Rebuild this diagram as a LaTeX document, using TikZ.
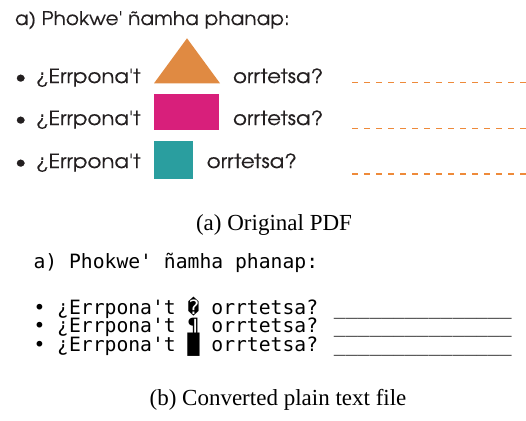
\documentclass[tikz,border=0pt]{standalone}
\usepackage{fontspec}
\newfontfamily\adv[FakeStretch=1.1,FakeBold=0.25]{texgyreadventor-regular.otf}
\newfontfamily\advtitle[FakeStretch=1.07,FakeBold=0.25]{texgyreadventor-regular.otf}
\newfontfamily\mono{DejaVu Sans Mono}
\newfontfamily\capfont{Liberation Serif}
\definecolor{triorange}{HTML}{E08A42}
\definecolor{rectmag}{HTML}{D81F7B}
\definecolor{sqteal}{HTML}{2A9E9F}
\definecolor{dashorange}{HTML}{EE8A3A}
\definecolor{inkgray}{HTML}{231F20}
\begin{document}
\begin{tikzpicture}[x=1pt,y=-1pt,
  every node/.style={inner sep=0pt,outer sep=0pt},
  orig/.style={font=\adv\fontsize{19.4}{22}\selectfont,anchor=base west,text=inkgray},
  origtitle/.style={font=\advtitle\fontsize{18.8}{21}\selectfont,anchor=base west,text=inkgray},
  bul/.style={font=\adv\fontsize{19.4}{22}\selectfont,anchor=base,text=inkgray},
  answer/.style={dashorange,line width=1.3pt,dash pattern=on 6pt off 6pt},
  plain/.style={font=\mono\fontsize{19.7}{23}\selectfont,anchor=base west},
  capt/.style={font=\capfont\fontsize{23}{27}\selectfont,anchor=base}]
\useasboundingbox (0,0) rectangle (526,420);
% (a) original
\node[origtitle] (t) at (15,25) {a) Phokwe' ñamha phanap:};
\node[bul] (b1) at (20.7,83) {•};
\node[bul] (b2) at (20.7,125) {•};
\node[bul] (b3) at (20.7,168) {•};
\node[orig] (q1) at (36,83) {¿Errpona't};
\node[orig] (q2) at (36,125) {¿Errpona't};
\node[orig] (q3) at (36,168) {¿Errpona't};
\fill[triorange] (154,83.3) -- (220,83.3) -- (187,38.3) -- cycle;
\fill[rectmag] (154,94) rectangle (219,130);
\fill[sqteal] (154,140.7) rectangle (192.5,178.7);
\node[orig] (o1) at (233,83) {orrtetsa?};
\node[orig] (o2) at (233,125) {orrtetsa?};
\node[orig] (o3) at (206.7,168) {orrtetsa?};
\coordinate (d1s) at (352,82.7); \coordinate (d1e) at (526,82.7);
\coordinate (d2s) at (352,128.3); \coordinate (d2e) at (526,128.3);
\coordinate (d3s) at (352,174); \coordinate (d3e) at (526,174);
\draw[answer] (d1s) -- (d1e);
\draw[answer] (d2s) -- (d2e);
\draw[answer] (d3s) -- (d3e);
\node[capt] (ca) at (274,230) {(a) Original PDF};
% (b) plain text
\node[plain] (p0) at (33.5,268) {a) Phokwe' ñamha phanap:};
\node[plain] (p1) at (33.5,314) {• ¿Errpona't � orrtetsa? \_\_\_\_\_\_\_\_\_\_\_\_\_\_\_};
\node[plain] (p2) at (33.5,332.5) {• ¿Errpona't ¶ orrtetsa? \_\_\_\_\_\_\_\_\_\_\_\_\_\_\_};
\node[plain] (p3) at (33.5,351) {• ¿Errpona't █ orrtetsa? \_\_\_\_\_\_\_\_\_\_\_\_\_\_\_};
\node[capt] (cb) at (278,405) {(b) Converted plain text file};
\end{tikzpicture}
\end{document}
